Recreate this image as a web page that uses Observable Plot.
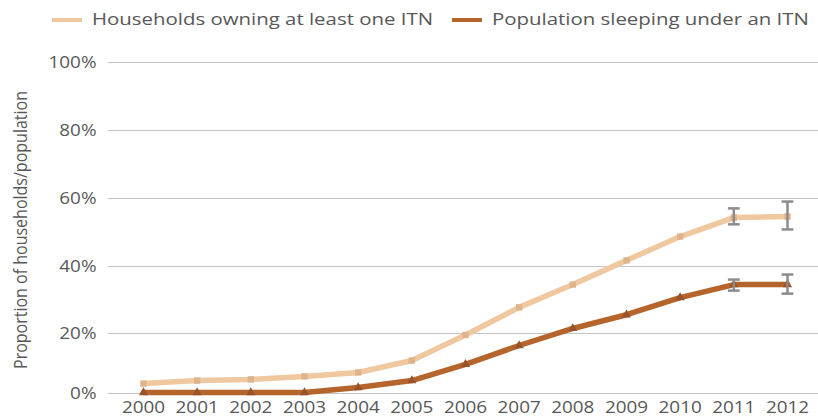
<!DOCTYPE html>
<html>
<head>
<meta charset="utf-8">
<script src="https://cdn.jsdelivr.net/npm/d3@7"></script>
<script src="https://cdn.jsdelivr.net/npm/@observablehq/plot@0.6"></script>
<style>
  html, body { margin: 0; padding: 0; background: #fff; }
  #wrap { position: relative; width: 818px; height: 419px; font-family: "Open Sans", sans-serif; overflow: hidden; }
  #chart { position: absolute; left: 0; top: 0; }
  .sw { position: absolute; width: 30px; height: 4px; top: 18px; }
  .lt { position: absolute; top: 7px; font-size: 17px; color: #585858; white-space: nowrap; transform: scaleX(1.2); transform-origin: left center; line-height: 24px; }
  #ytitle { position: absolute; left: 20px; top: 230px; width: 0; height: 0; }
  #ytitle span { position: absolute; left: 0; top: 0; white-space: nowrap; font-size: 16px; color: #585858; line-height: 18px;
    transform: translate(-50%, -50%) rotate(-90deg) scaleY(1.15); }
</style>
</head>
<body>
<div id="wrap">
  <div id="chart"></div>
  <div id="legend"></div>
  <div id="ytitle"><span></span></div>
</div>
<script>
const years = [2000, 2001, 2002, 2003, 2004, 2005, 2006, 2007, 2008, 2009, 2010, 2011, 2012];
const households = [3.3, 4.3, 4.7, 5.7, 7, 11, 19.5, 27.8, 34.6, 41.8, 48.8, 54.4, 54.7];
const population = [0.3, 0.3, 0.3, 0.3, 2, 4.3, 9.7, 16, 21.5, 25.6, 30.7, 34.6, 34.6];
const errYears = [2011, 2012];
const householdsLow = [52.4, 50.9];
const householdsHigh = [57.1, 59.1];
const populationLow = [32.8, 31.9];
const populationHigh = [36.1, 37.6];
const yTicks = [0, 20, 40, 60, 80, 100];
const seriesNames = ["Households owning at least one ITN", "Population sleeping under an ITN"];
const seriesColors = ["#f0c8a0", "#b5652b"];
const markerColors = ["#ddb48c", "#97532a"];
const errColor = "#8c8c8c";
const yTitle = "Proportion of households/population";

const lineData = [];
years.forEach((y, i) => {
  lineData.push({year: y, value: households[i], series: seriesNames[0]});
  lineData.push({year: y, value: population[i], series: seriesNames[1]});
});
const errData = [];
errYears.forEach((y, i) => {
  errData.push({year: y, lo: householdsLow[i], hi: householdsHigh[i]});
  errData.push({year: y, lo: populationLow[i], hi: populationHigh[i]});
});
const capHalf = 0.11;
const caps = errData.flatMap(d => [
  {x1: d.year - capHalf, x2: d.year + capHalf, y: d.lo},
  {x1: d.year - capHalf, x2: d.year + capHalf, y: d.hi}
]);

const plot = Plot.plot({
  width: 818,
  height: 419,
  marginTop: 62,
  marginBottom: 26,
  marginLeft: 108,
  marginRight: 0,
  style: {fontFamily: "'Open Sans', sans-serif", fontSize: "16px", color: "#585858", background: "transparent"},
  x: {domain: [1999.348, 2012.578], ticks: years, tickFormat: d => String(d), tickSize: 0, tickPadding: 8, label: null},
  y: {type: "linear", domain: [0, 20, 40, 60, 80, 100], range: [393, 333, 266, 198, 130, 62], ticks: yTicks, tickFormat: d => d + "%", tickSize: 0, tickPadding: 12, label: null},
  color: {domain: seriesNames, range: seriesColors},
  marks: [
    Plot.ruleY(yTicks, {stroke: "#c4c4c4", strokeWidth: 1}),
    Plot.line(lineData, {x: "year", y: "value", z: "series", stroke: "series", strokeWidth: 5.5, curve: "linear"}),
    Plot.dot(lineData.filter(d => d.series === seriesNames[0]), {x: "year", y: "value", symbol: "square", r: 3.6, fill: markerColors[0], stroke: null}),
    Plot.dot(lineData.filter(d => d.series === seriesNames[1]), {x: "year", y: "value", symbol: "triangle", r: 3.4, fill: markerColors[1], stroke: null}),
    Plot.ruleX(errData, {x: "year", y1: "lo", y2: "hi", stroke: errColor, strokeWidth: 2.5}),
    Plot.link(caps, {x1: "x1", x2: "x2", y1: "y", y2: "y", stroke: errColor, strokeWidth: 2.5})
  ]
});
// widen tick labels to match the reference's horizontally stretched lettering
plot.querySelectorAll('g[aria-label="x-axis tick label"] text, g[aria-label="y-axis tick label"] text').forEach(t => {
  const tr = t.getAttribute("transform") || "";
  t.setAttribute("transform", tr + " scale(1.18,1)");
});
document.getElementById("chart").appendChild(plot);

const legend = document.getElementById("legend");
const swatchLeft = [52, 452];
const textLeft = [92, 492];
seriesNames.forEach((name, i) => {
  const sw = document.createElement("span");
  sw.className = "sw";
  sw.style.left = swatchLeft[i] + "px";
  sw.style.background = seriesColors[i];
  legend.appendChild(sw);
  const t = document.createElement("span");
  t.className = "lt";
  t.style.left = textLeft[i] + "px";
  t.textContent = name;
  legend.appendChild(t);
});
document.querySelector("#ytitle span").textContent = yTitle;
</script>
</body>
</html>
